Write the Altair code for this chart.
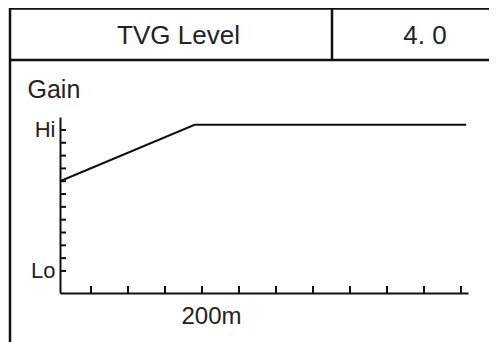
import altair as alt
import pandas as pd

# ---- data ----
distance_m = [8, 190, 557]          # range along the TVG curve
gain_level = [7, 11.4, 11.4]        # gain in tick steps (0 = Lo, 11 = Hi)
x_tick_m = [50, 100, 150, 200, 250, 300, 350, 400, 450, 500, 550]
y_tick_level = list(range(12))
y_label_values = [0, 11]
y_label_names = ["Lo", "Hi"]
x_label_value = 200
x_label_text = "200m"
header_label = "TVG Level"
header_value = "4. 0"
y_title = "Gain"

W, H = 408, 176
PAD_L, PAD_T = 52, 109
TOTAL_W, TOTAL_H = 481, 334
FONT = "Liberation Sans"
TEXT = "#222222"
LINE = "#111111"

x_scale = alt.Scale(domain=[8.1, 559.5], nice=False, zero=False)
y_scale = alt.Scale(domain=[-1.72, 12.01], nice=False, zero=False)

x_axis = alt.Axis(
    values=[x_label_value], labelExpr=f"'{x_label_text}'", ticks=False, grid=False,
    title=None, labelOffset=9, labelPadding=11, labelFontSize=24, labelFont=FONT,
    labelColor=TEXT, domainColor=LINE, domainWidth=2,
)
y_expr = " : ".join(
    f"datum.value == {v} ? '{n}'" for v, n in zip(y_label_values, y_label_names)
) + " : ''"
y_axis = alt.Axis(
    values=y_label_values, labelExpr=y_expr, ticks=False, grid=False,
    title=y_title, titleAngle=0, titleX=-33, titleY=-20, titleAlign="left",
    titleBaseline="alphabetic", titleFontSize=25, titleFontWeight="normal",
    titleFont=FONT, titleColor=TEXT,
    labelPadding=5, labelFontSize=22, labelFont=FONT, labelColor=TEXT,
    domainColor=LINE, domainWidth=2,
)

line_df = pd.DataFrame({"m": distance_m, "g": gain_level})
curve = alt.Chart(line_df).mark_line(color=LINE, strokeWidth=2).encode(
    x=alt.X("m:Q", scale=x_scale, axis=x_axis),
    y=alt.Y("g:Q", scale=y_scale, axis=y_axis),
)

y_ticks = alt.Chart(pd.DataFrame({"g": y_tick_level})).mark_rule(
    color=LINE, strokeWidth=2
).encode(
    y=alt.Y("g:Q", scale=y_scale, axis=y_axis),
    x=alt.value(0), x2=alt.value(6),
)
x_ticks = alt.Chart(pd.DataFrame({"m": x_tick_m})).mark_rule(
    color=LINE, strokeWidth=2
).encode(
    x=alt.X("m:Q", scale=x_scale, axis=x_axis),
    y=alt.value(H), y2=alt.value(H - 7),
)

one = pd.DataFrame({"a": [0]})


def hrule(y, x1, x2):
    return alt.Chart(one).mark_rule(color=LINE, strokeWidth=2.5).encode(
        x=alt.value(x1), x2=alt.value(x2), y=alt.value(y)
    )


def vrule(x, y1, y2):
    return alt.Chart(one).mark_rule(color=LINE, strokeWidth=2.5).encode(
        x=alt.value(x), y=alt.value(y1), y2=alt.value(y2)
    )


right_end = TOTAL_W - PAD_L
bottom_end = TOTAL_H - PAD_T
frame = [
    hrule(-108.5, -51, right_end),
    hrule(-57, -51, right_end),
    vrule(-50, -109.5, bottom_end),
    vrule(272, -108.5, -57),
]

head1 = alt.Chart(pd.DataFrame({"t": [header_label]})).mark_text(
    fontSize=26, font=FONT, color=TEXT, align="center", baseline="alphabetic"
).encode(text="t:N", x=alt.value(118.5), y=alt.value(-73.5))
head2 = alt.Chart(pd.DataFrame({"t": [header_value]})).mark_text(
    fontSize=26, font=FONT, color=TEXT, align="center", baseline="alphabetic"
).encode(text="t:N", x=alt.value(365), y=alt.value(-73.5))

chart = alt.layer(curve, y_ticks, x_ticks, *frame, head1, head2).properties(
    width=W, height=H,
    autosize=alt.AutoSizeParams(type="none"),
    padding={"left": PAD_L, "top": PAD_T, "right": TOTAL_W - PAD_L - W,
             "bottom": TOTAL_H - PAD_T - H},
    background="white",
).configure_view(strokeWidth=0)

chart.save("out.html", embed_options={"renderer": "svg", "actions": False})
